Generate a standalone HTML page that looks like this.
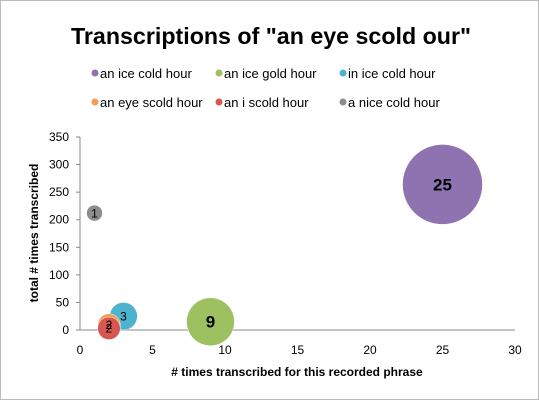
<!DOCTYPE html>
<html><head><meta charset="utf-8"><style>
body{margin:0;background:#fff}
svg{display:block;font-family:"Liberation Sans",sans-serif}
</style></head><body>
<svg id="c" width="539" height="400">
<rect x="0.5" y="0.5" width="538" height="399" fill="#fff" stroke="#bbb"/>
<text x="271" y="44" text-anchor="middle" font-size="23" font-weight="bold" textLength="400" lengthAdjust="spacingAndGlyphs">Transcriptions of "an eye scold our"</text>
<g id="legend"></g>
<g id="axes"></g>
<g id="marks"></g>
<text x="297" y="376" text-anchor="middle" font-size="12" font-weight="bold">#  times transcribed for this recorded phrase</text>
<text transform="translate(38,233) rotate(-90)" text-anchor="middle" font-size="12" font-weight="bold">total # times transcribed</text>
</svg>
<script>
const names=["an ice cold hour","an ice gold hour","in ice cold hour","an eye scold hour","an i scold hour","a nice cold hour"];
const colors=["#8f73b1","#9dc060","#4eb3cf","#f69c55","#d6574f","#8c8c8c"];
const xVals=[25,9,3,2,2,1];
const yVals=[264,15,25,9,3,212];
const sizes=[25,9,3,2,2,1];
const xTicks=[0,5,10,15,20,25,30];
const yTicks=[0,50,100,150,200,250,300,350];
const NS="http://www.w3.org/2000/svg";
const X0=80,X1=515,Y0=330,Y1=137;
const sx=v=>X0+(v-0)/(30-0)*(X1-X0);
const sy=v=>Y0-(v-0)/(350-0)*(Y0-Y1);
function mk(t,a,p){const e=document.createElementNS(NS,t);for(const k in a)e.setAttribute(k,a[k]);p.appendChild(e);return e;}
const ax=document.getElementById('axes');
const l1=mk('line',{x1:X0,y1:Y1,x2:X0,y2:Y0,stroke:'#888'},ax);


const l2=mk('line',{x1:X0,y1:Y0,x2:X1,y2:Y0,stroke:'#888'},ax);


xTicks.forEach(v=>{
  const t=mk('text',{x:sx(v),y:Y0+24,'text-anchor':'middle','font-size':12},ax);t.textContent=v;
  
  
});
yTicks.forEach(v=>{
  mk('line',{x1:X0-4,y1:sy(v),x2:X0,y2:sy(v),stroke:'#888'},ax);
  const t=mk('text',{x:X0-11,y:sy(v)+4,'text-anchor':'end','font-size':12},ax);t.textContent=v;
  
  
});
const mg=document.getElementById('marks');
xVals.forEach((xv,i)=>{
  const r=40*Math.sqrt(sizes[i]/25);
  const c=mk('circle',{cx:sx(xv),cy:sy(yVals[i]),r:r,fill:colors[i],stroke:'#fff','stroke-width':0.5},mg);
  
  
});
xVals.forEach((xv,i)=>{
  const fs=sizes[i]>=9?17:12;
  const t=mk('text',{x:sx(xv),y:sy(yVals[i])+fs*0.35,'text-anchor':'middle','font-size':fs,'font-weight':sizes[i]>=9?'bold':'normal'},mg);
  t.textContent=sizes[i];
  
  
});
const lg=document.getElementById('legend');
const lx=[95,219,343];
names.forEach((n,i)=>{
  const x=lx[i%3],y=i<3?77:106;
  mk('circle',{cx:x,cy:y-4,r:3.5,fill:colors[i]},lg);
  const t=mk('text',{x:x+5,y:y+1,'font-size':13},lg);t.textContent=n;
  
  
});
</script>
</body></html>
